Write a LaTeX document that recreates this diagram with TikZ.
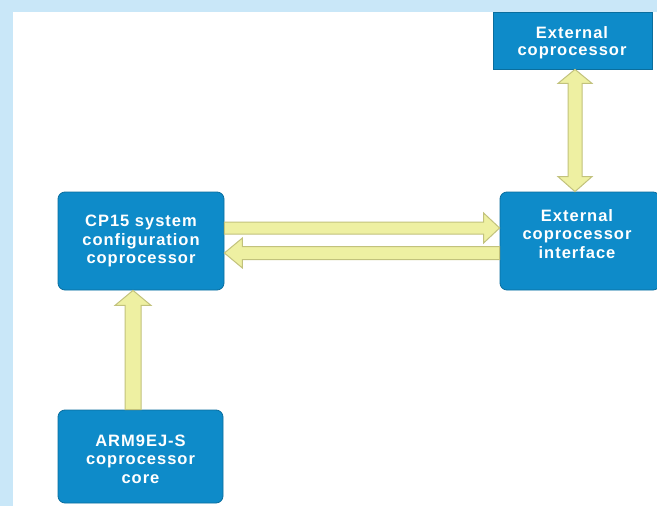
\documentclass[tikz,border=0pt]{standalone}
\usepackage{fontspec}
\setmainfont{Liberation Sans}
\newfontfamily\boxfont[LetterSpace=6]{Liberation Sans}
\usetikzlibrary{calc}
\definecolor{boxblue}{HTML}{0E8BC9}
\definecolor{boxedge}{HTML}{0A6E9E}
\definecolor{arrfill}{HTML}{EEF0A2}
\definecolor{arredge}{HTML}{C2C27C}
\definecolor{bgblue}{HTML}{C9E7F8}
\begin{document}
\begin{tikzpicture}[x=1pt,y=1pt,
  blk/.style={draw=boxedge, line width=0.8pt, fill=boxblue, rounded corners=7pt,
    text=white, align=center, inner sep=0pt,
    font=\boxfont\fontsize{16.5}{18.5}\selectfont\bfseries},
  lbl/.style={text=white, align=center, inner sep=0pt,
    font=\boxfont\fontsize{16.5}{18.5}\selectfont\bfseries},
  fat/.style={draw=arredge, line width=1pt, fill=arrfill, line join=miter}]
\useasboundingbox (0,0) rectangle (657,-506);
\fill[bgblue] (0,0) rectangle (657,-506);
\fill[white] (13,-12) rectangle (657,-506);

\node[blk, rounded corners=0pt, minimum width=159, minimum height=57] (ext) at (572.5,-40.5) {};
\node[lbl, font=\boxfont\fontsize{16.5}{17}\selectfont\bfseries] (extt) at (572,-43) {External\\coprocessor};
\node[blk, minimum width=166, minimum height=98] (cp) at (141,-241) {CP15 system\\configuration\\coprocessor};
\node[blk, minimum width=160, minimum height=98] (ifc) at (580,-241) {};
\node[lbl] (ifct) at (577,-234) {External\\coprocessor\\interface};
\node[blk, minimum width=165, minimum height=93] (arm) at (140.5,-456.5) {};
\node[lbl] (armt) at (140.5,-459) {ARM9EJ-S\\coprocessor\\core};

% right arrow cp -> ifc
\draw[fat] let \p1=($(cp.east)+(0,13)$), \p2=($(ifc.west)+(0,13)$) in
  (\x1,{\y1+6pt}) -- ({\x2-16pt},{\y1+6pt}) -- ({\x2-16pt},{\y1+15pt}) -- (\x2,\y1)
  -- ({\x2-16pt},{\y1-15pt}) -- ({\x2-16pt},{\y1-6pt}) -- (\x1,{\y1-6pt}) -- cycle;
% left arrow ifc -> cp
\draw[fat] let \p1=($(ifc.west)+(0,-12)$), \p2=($(cp.east)+(0,-12)$) in
  (\x1,{\y1+6.5pt}) -- ({\x2+18pt},{\y1+6.5pt}) -- ({\x2+18pt},{\y1+15pt}) -- (\x2,\y1)
  -- ({\x2+18pt},{\y1-15pt}) -- ({\x2+18pt},{\y1-6.5pt}) -- (\x1,{\y1-6.5pt}) -- cycle;
% double arrow ext <-> ifc
\draw[fat] let \p1=($(ext.south)+(2.5,0)$), \p2=($(ext.south |- ifc.north)+(2.5,0)$) in
  (\x1,\y1) -- ({\x1+17pt},{\y1-14pt}) -- ({\x1+7pt},{\y1-14pt}) -- ({\x1+7pt},{\y2+15pt})
  -- ({\x1+17pt},{\y2+15pt}) -- (\x2,\y2) -- ({\x1-17pt},{\y2+15pt}) -- ({\x1-7pt},{\y2+15pt})
  -- ({\x1-7pt},{\y1-14pt}) -- ({\x1-17pt},{\y1-14pt}) -- cycle;
% up arrow arm -> cp
\draw[fat] let \p1=($(arm.north)+(-7.5,0)$), \p2=($(arm.north |- cp.south)+(-7.5,0)$) in
  ({\x1-8pt},\y1) -- ({\x1-8pt},{\y2-15pt}) -- ({\x1-18pt},{\y2-15pt}) -- (\x2,\y2)
  -- ({\x1+18pt},{\y2-15pt}) -- ({\x1+8pt},{\y2-15pt}) -- ({\x1+8pt},\y1) -- cycle;
\end{tikzpicture}
\end{document}
